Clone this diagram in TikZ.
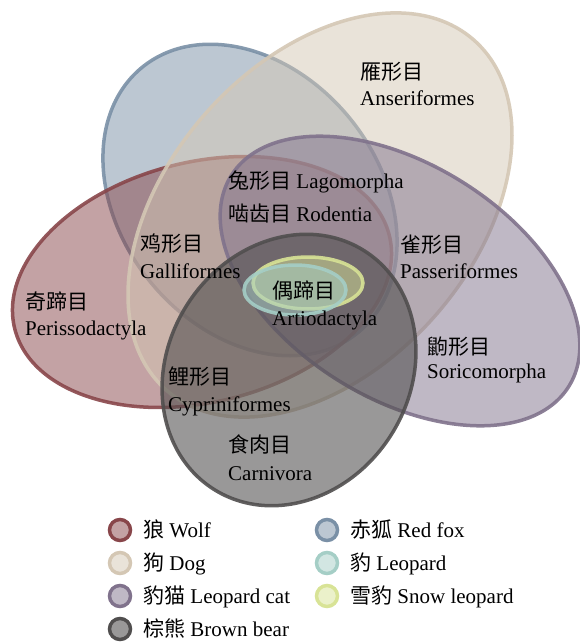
\documentclass[tikz,border=0pt]{standalone}
\usepackage{fontspec}
\setmainfont{Liberation Serif}
\newfontfamily\cjk{Noto Sans CJK SC}

% set colours
\definecolor{wolfc}{RGB}{136,70,74}
\definecolor{foxc}{RGB}{122,144,166}
\definecolor{dogc}{RGB}{212,199,180}
\definecolor{catc}{RGB}{128,114,140}
\definecolor{bearc}{RGB}{80,78,78}
\definecolor{leoc}{RGB}{165,206,198}
\definecolor{snowc}{RGB}{216,227,150}

\tikzset{
  setshape/.style={draw=#1, fill=#1, line width=3.5pt, fill opacity=0.5, draw opacity=0.9},
  lbl/.style={anchor=base west, inner sep=0pt, font=\fontsize{21}{25}\selectfont},
  keydot/.style={circle, minimum size=21pt, inner sep=0pt, draw=#1, fill=#1, line width=3.5pt, fill opacity=0.5},
}

\begin{document}
\begin{tikzpicture}[x=1pt,y=-1pt]
\useasboundingbox (0,0) rectangle (580,642);

% the seven sets, back to front
\draw[setshape=foxc,  rotate around={-51:(250,200)}] (250,200) ellipse [x radius=171, y radius=129];
\draw[setshape=wolfc, rotate around={14:(202,282)}]  (202,282) ellipse [x radius=193, y radius=120];
\draw[setshape=dogc,  rotate around={48.7:(320,215)}] (320,215) ellipse [x radius=233, y radius=153];
\draw[setshape=catc,  rotate around={-32:(400,281)}] (400,281) ellipse [x radius=199, y radius=117];
\draw[setshape=bearc, fill opacity=0.58, rotate around={58:(289,370)}]  (289,370) ellipse [x radius=141, y radius=121];
\draw[setshape=snowc] (308,283) ellipse [x radius=55, y radius=26];
\draw[setshape=leoc]  (295,290) ellipse [x radius=51, y radius=25];

% order labels
\node[lbl] (anser-cn) at (360,79)  {\cjk 雁形目};
\node[lbl] (anser-en) at (360,105) {Anseriformes};
\node[lbl] (lago)     at (228,188) {{\cjk 兔形目} Lagomorpha};
\node[lbl] (rode)     at (228,221) {{\cjk 啮齿目} Rodentia};
\node[lbl] (gall-cn)  at (140,251) {\cjk 鸡形目};
\node[lbl] (gall-en)  at (140,278) {Galliformes};
\node[lbl] (peri-cn)  at (25,309)  {\cjk 奇蹄目};
\node[lbl] (peri-en)  at (25,335)  {Perissodactyla};
\node[lbl] (pass-cn)  at (400,252) {\cjk 雀形目};
\node[lbl] (pass-en)  at (400,278) {Passeriformes};
\node[lbl] (sori-cn)  at (427,354) {\cjk 鼩形目};
\node[lbl] (sori-en)  at (427,378) {Soricomorpha};
\node[lbl] (arti-cn)  at (272,298) {\cjk 偶蹄目};
\node[lbl] (arti-en)  at (272,325) {Artiodactyla};
\node[lbl] (cypr-cn)  at (168,384) {\cjk 鲤形目};
\node[lbl] (cypr-en)  at (168,411) {Cypriniformes};
\node[lbl] (carn-cn)  at (228,452) {\cjk 食肉目};
\node[lbl] (carn-en)  at (228,480) {Carnivora};

% legend
\node[keydot=wolfc] (k-wolf) at (120,530) {};
\node[keydot=dogc]  (k-dog)  at (120,563) {};
\node[keydot=catc]  (k-cat)  at (120,596) {};
\node[keydot=bearc, fill opacity=0.58] (k-bear) at (120,629) {};
\node[keydot=foxc]  (k-fox)  at (327,530) {};
\node[keydot=leoc]  (k-leo)  at (327,563) {};
\node[keydot=snowc] (k-snow) at (327,596) {};

\node[lbl] (t-wolf) at (143,537) {{\cjk 狼} Wolf};
\node[lbl] (t-dog)  at (143,570) {{\cjk 狗} Dog};
\node[lbl] (t-cat)  at (143,603) {{\cjk 豹猫} Leopard cat};
\node[lbl] (t-bear) at (143,636) {{\cjk 棕熊} Brown bear};
\node[lbl] (t-fox)  at (350,537) {{\cjk 赤狐} Red fox};
\node[lbl] (t-leo)  at (350,570) {{\cjk 豹} Leopard};
\node[lbl] (t-snow) at (350,603) {{\cjk 雪豹} Snow leopard};
\end{tikzpicture}
\end{document}
